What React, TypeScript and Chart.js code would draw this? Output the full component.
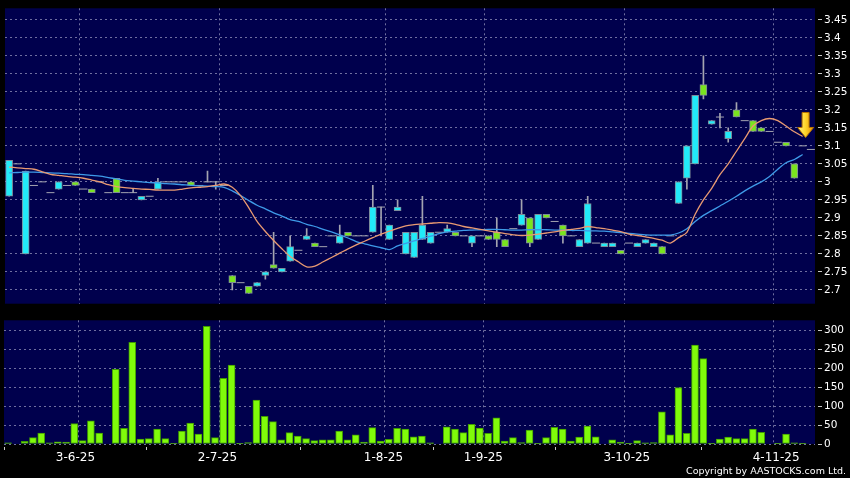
import React, { useEffect, useRef } from 'react';
import { Chart, registerables } from 'chart.js';

Chart.register(...registerables);

const FONT = "'DejaVu Sans', sans-serif";
const NAVY = '#00004d';
const GRID = '#6f6fa0';
const CYAN = '#22eaf8';
const GREEN = '#7ae41e';
const BODY_BORDER = '#7d8b99';
const WICK = '#a4a4b0';

// ---- Candles (one entry per trading day) ----
const opens = [
  2.96, 3.05, 2.80, 2.99, 3.00, 2.97, 2.98, 2.99, 3.00, 2.98,
  2.98, 3.00, 2.97, 3.01, 2.97, 2.97, 2.95, 2.96, 2.98, 3.00,
  3.00, 3.00, 3.00, 2.99, 3.00, 3.00, 2.99, 2.74, 2.72, 2.71,
  2.71, 2.74, 2.77, 2.75, 2.78, 2.81, 2.84, 2.83, 2.82, 2.85,
  2.83, 2.86, 2.85, 2.85, 2.86, 2.93, 2.84, 2.92, 2.80, 2.79,
  2.84, 2.83, 2.86, 2.86, 2.86, 2.85, 2.83, 2.85, 2.85, 2.86,
  2.84, 2.87, 2.88, 2.90, 2.84, 2.91, 2.89, 2.88, 2.85, 2.82,
  2.83, 2.83, 2.82, 2.82, 2.81, 2.83, 2.82, 2.83, 2.82, 2.82,
  2.85, 2.94, 3.01, 3.05, 3.27, 3.16, 3.18, 3.12, 3.20, 3.17,
  3.17, 3.15, 3.14, 3.11, 3.11, 3.05, 3.10, 3.09,
];
const highs = [
  3.06, 3.05, 3.03, 2.99, 3.00, 2.97, 3.00, 2.99, 3.00, 2.98,
  2.98, 3.00, 2.97, 3.01, 2.97, 2.98, 2.96, 2.96, 3.01, 3.00,
  3.00, 3.00, 3.00, 2.99, 3.03, 3.00, 2.99, 2.74, 2.72, 2.71,
  2.72, 2.75, 2.86, 2.76, 2.85, 2.81, 2.87, 2.83, 2.82, 2.85,
  2.88, 2.86, 2.85, 2.85, 2.99, 2.93, 2.88, 2.95, 2.86, 2.86,
  2.96, 2.86, 2.86, 2.88, 2.86, 2.85, 2.85, 2.85, 2.85, 2.90,
  2.84, 2.87, 2.95, 2.90, 2.91, 2.91, 2.89, 2.88, 2.85, 2.84,
  2.96, 2.83, 2.83, 2.83, 2.81, 2.83, 2.83, 2.84, 2.83, 2.82,
  2.85, 3.00, 3.10, 3.24, 3.35, 3.17, 3.19, 3.15, 3.22, 3.17,
  3.17, 3.15, 3.14, 3.11, 3.11, 3.05, 3.10, 3.09,
];
const lows = [
  2.96, 3.05, 2.80, 2.99, 3.00, 2.97, 2.98, 2.99, 2.99, 2.98,
  2.97, 3.00, 2.97, 2.97, 2.97, 2.97, 2.95, 2.96, 2.98, 3.00,
  3.00, 3.00, 2.99, 2.99, 3.00, 2.98, 2.99, 2.70, 2.72, 2.69,
  2.71, 2.73, 2.76, 2.75, 2.78, 2.81, 2.84, 2.82, 2.82, 2.85,
  2.83, 2.85, 2.85, 2.85, 2.86, 2.85, 2.84, 2.92, 2.80, 2.79,
  2.84, 2.83, 2.86, 2.86, 2.85, 2.85, 2.82, 2.85, 2.84, 2.82,
  2.82, 2.87, 2.88, 2.82, 2.84, 2.90, 2.89, 2.83, 2.85, 2.82,
  2.83, 2.83, 2.82, 2.82, 2.80, 2.83, 2.82, 2.83, 2.82, 2.80,
  2.85, 2.94, 2.98, 3.05, 3.23, 3.16, 3.15, 3.11, 3.18, 3.17,
  3.14, 3.14, 3.14, 3.11, 3.10, 3.01, 3.10, 3.09,
];
const closes = [
  3.06, 3.05, 3.03, 2.99, 3.00, 2.97, 3.00, 2.99, 2.99, 2.98,
  2.97, 3.00, 2.97, 2.97, 2.97, 2.97, 2.96, 2.96, 3.00, 3.00,
  3.00, 3.00, 2.99, 2.99, 3.00, 3.00, 2.99, 2.72, 2.72, 2.69,
  2.72, 2.75, 2.76, 2.76, 2.82, 2.81, 2.85, 2.82, 2.82, 2.85,
  2.85, 2.85, 2.85, 2.85, 2.93, 2.93, 2.88, 2.93, 2.86, 2.86,
  2.88, 2.86, 2.86, 2.87, 2.85, 2.85, 2.85, 2.85, 2.84, 2.84,
  2.82, 2.87, 2.91, 2.83, 2.91, 2.90, 2.89, 2.85, 2.85, 2.84,
  2.94, 2.83, 2.83, 2.83, 2.80, 2.83, 2.83, 2.84, 2.83, 2.80,
  2.85, 3.00, 3.10, 3.24, 3.24, 3.17, 3.18, 3.14, 3.18, 3.17,
  3.14, 3.14, 3.14, 3.11, 3.10, 3.01, 3.10, 3.09,
];

// ---- Volume ----
const volumes = [
  3, 0, 7, 17, 29, 3, 6, 5, 54, 9,
  61, 29, 0, 197, 41, 268, 13, 14, 39, 14,
  1, 34, 55, 26, 310, 17, 173, 208, 2, 4,
  116, 73, 59, 11, 30, 21, 14, 9, 11, 11,
  34, 11, 24, 5, 43, 8, 12, 41, 39, 19,
  21, 3, 0, 45, 39, 30, 52, 42, 28, 69,
  8, 17, 4, 37, 2, 17, 44, 39, 8, 18,
  47, 19, 0, 11, 5, 1, 9, 3, 4, 85,
  24, 149, 28, 261, 225, 1, 13, 18, 14, 14,
  39, 31, 0, 1, 26, 3, 1, 0,
];

// ---- Moving averages ----
const maShort = [
  3.041, 3.039, 3.037, 3.035, 3.028, 3.021, 3.018, 3.015, 3.013, 3.010,
  3.005, 3.000, 2.992, 2.987, 2.984, 2.982, 2.980, 2.979, 2.977, 2.977,
  2.977, 2.980, 2.983, 2.985, 2.987, 2.990, 2.994, 2.985, 2.962, 2.928,
  2.890, 2.862, 2.837, 2.814, 2.793, 2.778, 2.764, 2.766, 2.778, 2.790,
  2.802, 2.814, 2.825, 2.835, 2.845, 2.855, 2.863, 2.871, 2.878, 2.881,
  2.883, 2.885, 2.887, 2.886, 2.882, 2.876, 2.872, 2.868, 2.864, 2.860,
  2.856, 2.853, 2.851, 2.852, 2.855, 2.858, 2.861, 2.865, 2.868, 2.871,
  2.876, 2.873, 2.870, 2.866, 2.862, 2.855, 2.851, 2.847, 2.843, 2.838,
  2.830, 2.845, 2.860, 2.910, 2.950, 2.982, 3.020, 3.050, 3.085, 3.120,
  3.155, 3.170, 3.176, 3.170, 3.155, 3.139, 3.126,
];
const maLong = [
  3.025, 3.026, 3.027, 3.027, 3.026, 3.025, 3.024, 3.023, 3.021, 3.020,
  3.018, 3.016, 3.012, 3.008, 3.004, 3.002, 3.000, 2.998, 2.997, 2.995,
  2.994, 2.992, 2.990, 2.989, 2.988, 2.987, 2.985, 2.975, 2.962, 2.948,
  2.935, 2.925, 2.914, 2.905, 2.895, 2.890, 2.882, 2.876, 2.868, 2.861,
  2.853, 2.844, 2.834, 2.828, 2.822, 2.817, 2.812, 2.822, 2.829, 2.836,
  2.843, 2.849, 2.856, 2.861, 2.863, 2.865, 2.866, 2.867, 2.868, 2.868,
  2.867, 2.866, 2.866, 2.867, 2.867, 2.867, 2.866, 2.866, 2.865, 2.865,
  2.864, 2.864, 2.863, 2.861, 2.859, 2.857, 2.855, 2.853, 2.852, 2.852,
  2.852, 2.858, 2.870, 2.890, 2.907, 2.920, 2.933, 2.946, 2.960, 2.975,
  2.988, 3.000, 3.015, 3.035, 3.053, 3.062, 3.076,
];

// ---- Axes ----
const monthLabels = ['3-6-25', '2-7-25', '1-8-25', '1-9-25', '3-10-25', '4-11-25'];
const monthGridPositions = [8.5, 25.5, 45.5, 57.5, 74.5, 92.5];
const monthLabelPositions = [8.13, 25.29, 45.35, 57.43, 74.76, 92.8];
const priceTickValues = [3.45, 3.4, 3.35, 3.3, 3.25, 3.2, 3.15, 3.1, 3.05, 3.0, 2.95, 2.9, 2.85, 2.8, 2.75, 2.7];
const priceTickLabels = ['3.45', '3.4', '3.35', '3.3', '3.25', '3.2', '3.15', '3.1', '3.05', '3', '2.95', '2.9', '2.85', '2.8', '2.75', '2.7'];
const volumeTickValues = [0, 50, 100, 150, 200, 250, 300];
const volumeTickLabels = ['0', '50', '100', '150', '200', '250', '300'];
const PRICE_MIN = 2.6616;
const PRICE_MAX = 3.482;
const VOLUME_MAX = 326;
const X_MIN = -0.5;
const X_MAX = 97.5;
const ARROW_INDEX = 96;

const bgPlugin = {
  id: 'bgPlugin',
  beforeDraw(chart: any) {
    const { ctx, chartArea, width, height } = chart;
    ctx.save();
    ctx.fillStyle = '#000000';
    ctx.fillRect(0, 0, width, height);
    ctx.fillStyle = NAVY;
    ctx.fillRect(chartArea.left, chartArea.top, chartArea.right - chartArea.left, chartArea.bottom - chartArea.top);
    ctx.restore();
  },
};

const arrowPlugin = {
  id: 'arrowPlugin',
  afterDatasetsDraw(chart: any) {
    const x = chart.scales.x.getPixelForValue(ARROW_INDEX) + 3;
    const y = chart.scales.y.getPixelForValue(maShort[ARROW_INDEX]) + 1;
    const ctx = chart.ctx;
    ctx.save();
    const g = ctx.createLinearGradient(x - 8, 0, x + 8, 0);
    g.addColorStop(0, '#fff486');
    g.addColorStop(0.5, '#ffd52a');
    g.addColorStop(1, '#e68c00');
    ctx.beginPath();
    ctx.moveTo(x - 3.5, y - 25);
    ctx.lineTo(x + 3.5, y - 25);
    ctx.lineTo(x + 3.5, y - 10);
    ctx.lineTo(x + 8, y - 10);
    ctx.lineTo(x, y);
    ctx.lineTo(x - 8, y - 10);
    ctx.lineTo(x - 3.5, y - 10);
    ctx.closePath();
    ctx.fillStyle = g;
    ctx.fill();
    ctx.strokeStyle = '#b87400';
    ctx.lineWidth = 1;
    ctx.stroke();
    ctx.restore();
  },
};

export default function App() {
  const priceRef = useRef<HTMLCanvasElement>(null);
  const volRef = useRef<HTMLCanvasElement>(null);

  useEffect(() => {
    const idx = opens.map((_, i) => i);
    const wickData = idx
      .filter((i) => highs[i] > lows[i])
      .map((i) => ({ x: i, y: [lows[i], highs[i]] }));
    const bodyData = idx
      .filter((i) => opens[i] !== closes[i])
      .map((i) => ({ x: i, y: [Math.min(opens[i], closes[i]), Math.max(opens[i], closes[i])] }));
    const dojiData = idx.filter((i) => opens[i] === closes[i]).map((i) => ({ x: i, y: closes[i] }));

    const priceChart = new Chart(priceRef.current as HTMLCanvasElement, {
      type: 'bar',
      data: {
        datasets: [
          {
            type: 'line',
            data: maShort.map((v, i) => ({ x: i, y: v })),
            borderColor: '#e99a72',
            borderWidth: 1.3,
            pointRadius: 0,
            tension: 0.3,
            order: 0,
          } as any,
          {
            type: 'line',
            data: maLong.map((v, i) => ({ x: i, y: v })),
            borderColor: '#3e9ae8',
            borderWidth: 1.3,
            pointRadius: 0,
            tension: 0.3,
            order: 1,
          } as any,
          {
            type: 'line',
            data: dojiData,
            showLine: false,
            pointStyle: 'line',
            pointRadius: 4,
            pointBorderWidth: 1,
            pointBorderColor: WICK,
            borderColor: WICK,
            order: 2,
          } as any,
          {
            type: 'bar',
            data: bodyData,
            backgroundColor: (c: any) => {
              const i = c.raw ? c.raw.x : 0;
              return closes[i] > opens[i] ? CYAN : GREEN;
            },
            borderColor: BODY_BORDER,
            borderWidth: 1,
            borderSkipped: false,
            barThickness: 7,
            grouped: false,
            order: 3,
          } as any,
          {
            type: 'bar',
            data: wickData,
            backgroundColor: WICK,
            borderWidth: 0,
            barThickness: 1,
            grouped: false,
            order: 4,
          } as any,
        ],
      },
      options: {
        animation: false,
        responsive: false,
        maintainAspectRatio: false,
        events: [],
        layout: { padding: { left: 4, top: 6, right: 0, bottom: 7 } },
        plugins: { legend: { display: false }, tooltip: { enabled: false } },
        scales: {
          x: {
            type: 'linear',
            min: X_MIN,
            max: X_MAX,
            offset: false,
            afterBuildTicks: (s: any) => {
              s.ticks = monthGridPositions.map((v) => ({ value: v }));
            },
            afterFit: (s: any) => {
              s.height = 0;
            },
            ticks: { display: false },
            grid: { color: GRID, drawTicks: false, offset: false },
            border: { display: false, dash: [2, 3] },
          },
          y: {
            type: 'linear',
            position: 'right',
            min: PRICE_MIN,
            max: PRICE_MAX,
            afterBuildTicks: (s: any) => {
              s.ticks = priceTickValues.map((v) => ({ value: v }));
            },
            afterFit: (s: any) => {
              s.width = 35;
            },
            ticks: {
              color: '#ffffff',
              font: { family: FONT, size: 10.5 },
              padding: 2,
              autoSkip: false,
              callback: (_v: any, i: number) => priceTickLabels[i],
            },
            grid: { color: GRID, tickColor: '#c8c8c8', tickLength: 7, tickBorderDash: [0, 3, 4] },
            border: { display: false, dash: [2, 3] },
          },
        },
      } as any,
      plugins: [bgPlugin, arrowPlugin],
    });

    const volumeChart = new Chart(volRef.current as HTMLCanvasElement, {
      type: 'bar',
      data: {
        datasets: [
          {
            data: volumes.map((v, i) => ({ x: i, y: v })),
            backgroundColor: '#80fb0a',
            borderColor: '#3f9a00',
            borderWidth: 1,
            borderSkipped: false,
            barThickness: 7,
            xAxisID: 'x',
            yAxisID: 'y',
          } as any,
        ],
      },
      options: {
        animation: false,
        responsive: false,
        maintainAspectRatio: false,
        events: [],
        layout: { padding: { left: 4, top: 7, right: 0, bottom: 4 } },
        plugins: { legend: { display: false }, tooltip: { enabled: false } },
        scales: {
          x: {
            type: 'linear',
            position: 'bottom',
            min: X_MIN,
            max: X_MAX,
            offset: false,
            afterBuildTicks: (s: any) => {
              s.ticks = monthGridPositions.map((v) => ({ value: v }));
            },
            afterFit: (s: any) => {
              s.height = 0;
            },
            ticks: { display: false },
            grid: { color: GRID, drawTicks: false, offset: false },
            border: { display: false, dash: [2, 3] },
          },
          x2: {
            type: 'linear',
            position: 'bottom',
            min: X_MIN,
            max: X_MAX,
            offset: false,
            afterBuildTicks: (s: any) => {
              s.ticks = monthLabelPositions.map((v) => ({ value: v }));
            },
            afterFit: (s: any) => {
              s.height = 30;
            },
            ticks: {
              color: '#ffffff',
              font: { family: FONT, size: 12 },
              padding: 1,
              maxRotation: 0,
              autoSkip: false,
              callback: (_v: any, i: number) => monthLabels[i],
            },
            grid: { drawOnChartArea: false, tickColor: '#c8c8c8', tickLength: 6, tickBorderDash: [0, 3, 3] },
            border: { display: false },
          },
          y: {
            type: 'linear',
            position: 'right',
            min: 0,
            max: VOLUME_MAX,
            afterBuildTicks: (s: any) => {
              s.ticks = volumeTickValues.map((v) => ({ value: v }));
            },
            afterFit: (s: any) => {
              s.width = 35;
            },
            ticks: {
              color: '#ffffff',
              font: { family: FONT, size: 10.5 },
              padding: 2,
              autoSkip: false,
              callback: (_v: any, i: number) => volumeTickLabels[i],
            },
            grid: { color: GRID, tickColor: '#c8c8c8', tickLength: 7, tickBorderDash: [0, 3, 4] },
            border: { display: false, dash: [2, 3] },
          },
        },
      } as any,
      plugins: [bgPlugin],
    });

    return () => {
      priceChart.destroy();
      volumeChart.destroy();
    };
  }, []);

  return (
    <div
      style={{
        position: 'absolute',
        left: 0,
        top: 0,
        width: 850,
        height: 478,
        background: '#000000',
        overflow: 'hidden',
      }}
    >
      <canvas
        ref={priceRef}
        width={850}
        height={312}
        style={{ position: 'absolute', left: 0, top: 0, width: 850, height: 312 }}
      />
      <canvas
        ref={volRef}
        width={850}
        height={166}
        style={{ position: 'absolute', left: 0, top: 312, width: 850, height: 166 }}
      />
      <div
        style={{
          position: 'absolute',
          right: 4,
          top: 465,
          color: '#ffffff',
          fontFamily: FONT,
          fontSize: '9.5px',
          lineHeight: '11px',
          whiteSpace: 'nowrap',
        }}
      >
        Copyright by AASTOCKS.com Ltd.
      </div>
    </div>
  );
}
